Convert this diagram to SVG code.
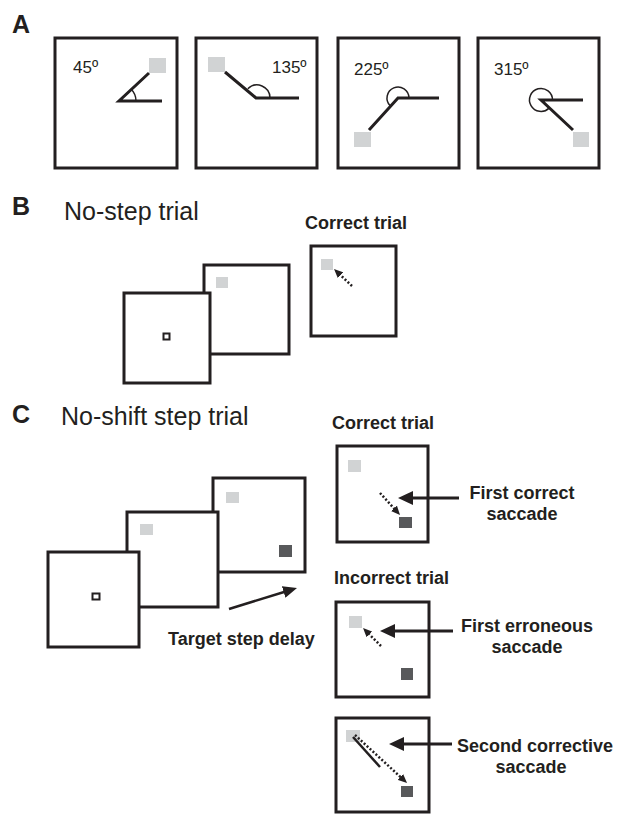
<svg xmlns="http://www.w3.org/2000/svg" width="622" height="814" viewBox="0 0 622 814">
  <style>
    .frame { fill: #ffffff; stroke: #231f20; stroke-width: 3; }
    .fix { fill: #ffffff; stroke: #231f20; stroke-width: 2; }
    .tgt { fill: #d1d3d4; }
    .step { fill: #58595b; }
    .ray { fill: none; stroke: #231f20; stroke-width: 3; }
    .ang { fill: none; stroke: #231f20; stroke-width: 1.5; }
    .letter { font-family: "Liberation Sans", Arial, sans-serif; font-weight: bold; font-size: 25px; fill: #231f20; }
    .title { font-family: "Liberation Sans", Arial, sans-serif; font-size: 25px; fill: #231f20; }
    .deg { font-family: "Liberation Sans", Arial, sans-serif; font-size: 17px; fill: #231f20; }
    .lbl { font-family: "Liberation Sans", Arial, sans-serif; font-weight: bold; font-size: 18px; fill: #231f20; }
    .dots { fill: none; stroke: #231f20; stroke-width: 2.5; stroke-dasharray: 2 2; }
    .pointer { fill: none; stroke: #231f20; stroke-width: 3; }
    .trace { fill: none; stroke: #231f20; stroke-width: 2.5; }
  </style>
  <defs>
    <marker id="headBig" markerUnits="userSpaceOnUse" markerWidth="15" markerHeight="14" refX="3" refY="7" orient="auto">
      <path d="M0,0 L15,7 L0,14 Z" fill="#231f20"/>
    </marker>
    <marker id="headMid" markerUnits="userSpaceOnUse" markerWidth="14" markerHeight="12" refX="3" refY="6" orient="auto">
      <path d="M0,0 L14,6 L0,12 Z" fill="#231f20"/>
    </marker>
    <marker id="headSmall" markerUnits="userSpaceOnUse" markerWidth="9" markerHeight="8" refX="2" refY="4" orient="auto">
      <path d="M0,0 L9,4 L0,8 Z" fill="#231f20"/>
    </marker>
  </defs>

  <!-- Panel letters and titles -->
  <text class="letter" x="12" y="33">A</text>
  <text class="letter" x="12" y="215">B</text>
  <text class="title" x="64" y="220">No-step trial</text>
  <text class="lbl" x="305" y="229">Correct trial</text>
  <text class="letter" x="12" y="423">C</text>
  <text class="title" x="61" y="425">No-shift step trial</text>
  <text class="lbl" x="332" y="429">Correct trial</text>
  <text class="lbl" x="334" y="584">Incorrect trial</text>

  <!-- A: target directions -->
  <g id="dir-45">
    <rect class="frame" x="55" y="38" width="122" height="130"/>
    <text class="deg" x="73" y="73">45º</text>
    <rect class="tgt" x="149" y="58" width="17" height="15"/>
    <path class="ray" d="M162,101 H119 L149,73"/>
    <path class="ang" d="M136,101 A17,17 0 0 0 131,89"/>
  </g>
  <g id="dir-135">
    <rect class="frame" x="196" y="38" width="121" height="130"/>
    <text class="deg" x="272" y="73">135º</text>
    <rect class="tgt" x="208" y="57" width="17" height="15"/>
    <path class="ray" d="M299,98 H256 L225,72"/>
    <path class="ang" d="M270,98 A13,13 0 0 0 247.8,88.8"/>
  </g>
  <g id="dir-225">
    <rect class="frame" x="338" y="38" width="121" height="130"/>
    <text class="deg" x="354" y="75">225º</text>
    <rect class="tgt" x="354" y="132" width="17" height="15"/>
    <path class="ray" d="M439,98 H398 L369,130"/>
    <path class="ang" d="M409,98 A11,11 0 1 0 390.2,105.8"/>
  </g>
  <g id="dir-315">
    <rect class="frame" x="478" y="38" width="121" height="130"/>
    <text class="deg" x="494" y="75">315º</text>
    <rect class="tgt" x="573" y="132" width="16" height="15"/>
    <path class="ray" d="M583,100 H541 L573,130"/>
    <path class="ang" d="M552.5,100 A11.5,11.5 0 1 0 549.1,108.1"/>
  </g>

  <!-- B: no-step trial -->
  <g id="b-target">
    <rect class="frame" x="204" y="265" width="85" height="89"/>
    <rect class="tgt" x="216" y="277" width="12" height="11"/>
  </g>
  <g id="b-fixation">
    <rect class="frame" x="124" y="293" width="86" height="90"/>
    <rect class="fix" x="163.5" y="333.5" width="6" height="6"/>
  </g>
  <g id="b-correct">
    <rect class="frame" x="311" y="246" width="85" height="90"/>
    <rect class="tgt" x="321" y="259" width="12" height="11"/>
  </g>

  <!-- C: no-shift step trial -->
  <g id="c-step">
    <rect class="frame" x="213" y="478" width="92" height="94"/>
    <rect class="tgt" x="226" y="492" width="13" height="11"/>
    <rect class="step" x="279" y="545" width="13" height="12"/>
  </g>
  <g id="c-target">
    <rect class="frame" x="127" y="512" width="91" height="95"/>
    <rect class="tgt" x="140" y="524" width="13" height="11"/>
  </g>
  <g id="c-fixation">
    <rect class="frame" x="48" y="552" width="91" height="95"/>
    <rect class="fix" x="92.5" y="593.5" width="7" height="6"/>
  </g>
  <g id="c-correct">
    <rect class="frame" x="337" y="446" width="91" height="96"/>
    <rect class="tgt" x="348" y="460" width="13" height="12"/>
    <rect class="step" x="399" y="517" width="13" height="11"/>
  </g>
  <g id="c-incorrect-first">
    <rect class="frame" x="336" y="602" width="93" height="95"/>
    <rect class="tgt" x="349" y="616" width="13" height="12"/>
    <rect class="step" x="401" y="668" width="12" height="12"/>
  </g>
  <g id="c-incorrect-second">
    <rect class="frame" x="336" y="718" width="93" height="94"/>
    <rect class="tgt" x="346" y="730" width="14" height="12"/>
    <rect class="step" x="401" y="786" width="12" height="11"/>
    <line class="trace" x1="353" y1="737" x2="380" y2="767"/>
  </g>

  <!-- Saccade arrows and callouts -->
  <g id="connectors">
    <line class="dots" x1="352" y1="286" x2="339.1" y2="273.8" marker-end="url(#headSmall)"/>
    <line class="dots" x1="380" y1="493" x2="395.3" y2="509.8" marker-end="url(#headSmall)"/>
    <line class="dots" x1="381" y1="646" x2="368" y2="633" marker-end="url(#headSmall)"/>
    <line class="dots" x1="355" y1="735" x2="401.9" y2="778.3" marker-end="url(#headSmall)"/>
    <line class="trace" x1="229" y1="609" x2="286.5" y2="591.2" marker-end="url(#headMid)"/>
    <line class="pointer" x1="459" y1="498" x2="410" y2="498" marker-end="url(#headBig)"/>
    <line class="pointer" x1="453" y1="631" x2="392" y2="631" marker-end="url(#headBig)"/>
    <line class="pointer" x1="452" y1="744" x2="401" y2="744" marker-end="url(#headBig)"/>
  </g>

  <!-- Callout labels -->
  <text class="lbl" x="168" y="645">Target step delay</text>
  <text class="lbl" text-anchor="middle" x="522" y="499">First correct</text>
  <text class="lbl" text-anchor="middle" x="522" y="520">saccade</text>
  <text class="lbl" text-anchor="middle" x="527" y="632">First erroneous</text>
  <text class="lbl" text-anchor="middle" x="527" y="653">saccade</text>
  <text class="lbl" text-anchor="middle" x="535" y="752">Second corrective</text>
  <text class="lbl" text-anchor="middle" x="531" y="773">saccade</text>
</svg>
